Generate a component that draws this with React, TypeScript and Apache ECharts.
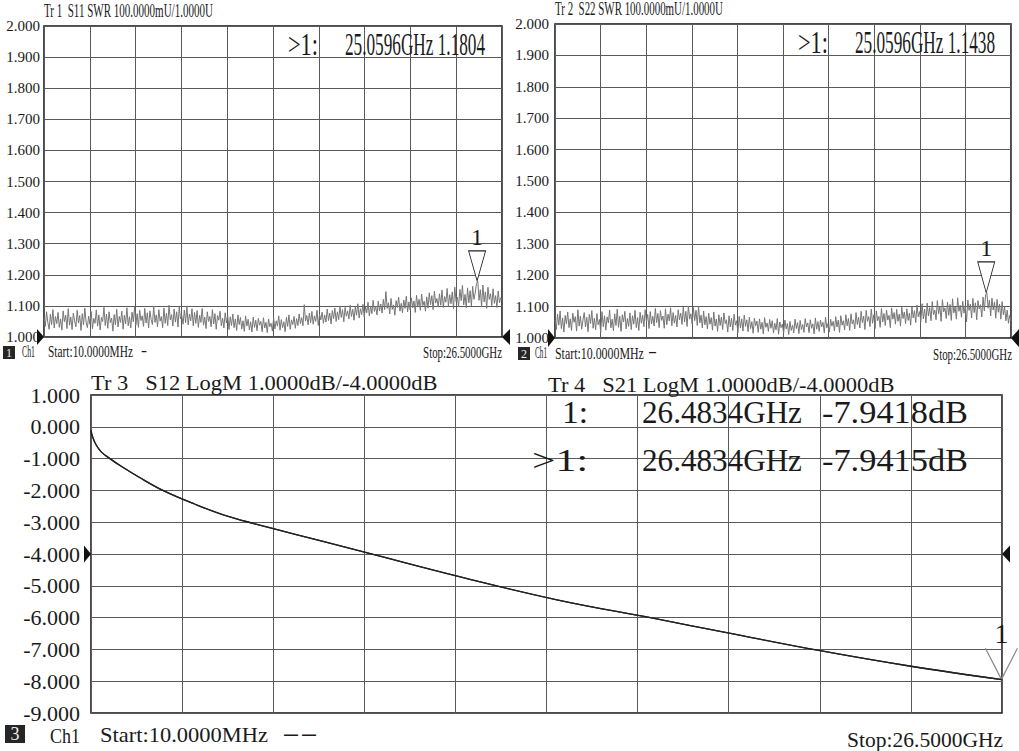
import React, { useEffect, useRef } from "react";
import * as echarts from "echarts";

// ---- sweep definition ----
const START_GHZ = 0.01;
const STOP_GHZ = 26.5;

// ---- Tr 1: S11 SWR (360 sweep points) ----
const s11Swr = [
  1.062, 1.034, 1.081, 1.047, 1.025, 1.073, 1.040, 1.088, 1.029, 1.066,
  1.043, 1.079, 1.031, 1.058, 1.022, 1.084, 1.049, 1.070, 1.027, 1.091,
  1.038, 1.064, 1.024, 1.077, 1.052, 1.033, 1.086, 1.045, 1.069, 1.021,
  1.075, 1.039, 1.093, 1.048, 1.030, 1.067, 1.041, 1.082, 1.026, 1.060,
  1.044, 1.087, 1.035, 1.071, 1.023, 1.063, 1.050, 1.095, 1.037, 1.074,
  1.028, 1.081, 1.046, 1.061, 1.019, 1.072, 1.039, 1.089, 1.032, 1.066,
  1.047, 1.083, 1.025, 1.070, 1.042, 1.094, 1.036, 1.065, 1.029, 1.080,
  1.049, 1.097, 1.038, 1.075, 1.031, 1.086, 1.053, 1.068, 1.034, 1.092,
  1.045, 1.078, 1.029, 1.084, 1.056, 1.040, 1.099, 1.047, 1.071, 1.033,
  1.088, 1.051, 1.066, 1.030, 1.093, 1.044, 1.076, 1.037, 1.102, 1.055,
  1.072, 1.035, 1.090, 1.048, 1.081, 1.032, 1.096, 1.058, 1.069, 1.041,
  1.087, 1.046, 1.100, 1.039, 1.074, 1.052, 1.091, 1.036, 1.079, 1.044,
  1.085, 1.031, 1.070, 1.047, 1.092, 1.038, 1.064, 1.027, 1.081, 1.050,
  1.066, 1.033, 1.088, 1.042, 1.075, 1.025, 1.069, 1.054, 1.083, 1.036,
  1.061, 1.029, 1.078, 1.045, 1.070, 1.024, 1.065, 1.037, 1.074, 1.030,
  1.058, 1.021, 1.071, 1.040, 1.063, 1.026, 1.052, 1.018, 1.068, 1.035,
  1.057, 1.023, 1.049, 1.016, 1.064, 1.031, 1.054, 1.020, 1.060, 1.038,
  1.050, 1.017, 1.062, 1.029, 1.047, 1.014, 1.058, 1.033, 1.044, 1.019,
  1.061, 1.026, 1.052, 1.035, 1.068, 1.022, 1.056, 1.030, 1.049, 1.017,
  1.063, 1.034, 1.071, 1.025, 1.055, 1.040, 1.066, 1.028, 1.059, 1.037,
  1.074, 1.043, 1.062, 1.036, 1.104, 1.051, 1.069, 1.039, 1.077, 1.046,
  1.082, 1.041, 1.068, 1.050, 1.086, 1.037, 1.073, 1.055, 1.080, 1.044,
  1.071, 1.048, 1.090, 1.053, 1.077, 1.042, 1.085, 1.059, 1.093, 1.050,
  1.081, 1.056, 1.098, 1.063, 1.088, 1.049, 1.095, 1.067, 1.084, 1.058,
  1.102, 1.066, 1.089, 1.054, 1.096, 1.070, 1.107, 1.061, 1.091, 1.072,
  1.105, 1.064, 1.097, 1.078, 1.112, 1.068, 1.100, 1.075, 1.118, 1.082,
  1.099, 1.071, 1.115, 1.084, 1.106, 1.077, 1.121, 1.088, 1.146, 1.092,
  1.110, 1.074, 1.124, 1.089, 1.103, 1.070, 1.117, 1.095, 1.128, 1.083,
  1.108, 1.078, 1.119, 1.092, 1.131, 1.081, 1.113, 1.087, 1.126, 1.094,
  1.116, 1.079, 1.134, 1.097, 1.121, 1.086, 1.138, 1.101, 1.115, 1.083,
  1.129, 1.093, 1.142, 1.104, 1.133, 1.088, 1.147, 1.109, 1.124, 1.096,
  1.139, 1.102, 1.151, 1.095, 1.130, 1.112, 1.156, 1.099, 1.136, 1.107,
  1.145, 1.091, 1.160, 1.114, 1.128, 1.098, 1.153, 1.117, 1.166, 1.103,
  1.137, 1.094, 1.158, 1.110, 1.149, 1.100, 1.163, 1.121, 1.141, 1.172,
  1.180, 1.118, 1.152, 1.097, 1.167, 1.113, 1.145, 1.092, 1.160, 1.121,
  1.139, 1.101, 1.155, 1.108, 1.133, 1.095, 1.148, 1.110, 1.126, 1.118,
];

// ---- Tr 2: S22 SWR (360 sweep points) ----
const s22Swr = [
  1.058, 1.027, 1.076, 1.041, 1.086, 1.030, 1.064, 1.019, 1.072, 1.045,
  1.083, 1.033, 1.061, 1.024, 1.079, 1.050, 1.068, 1.022, 1.090, 1.038,
  1.070, 1.028, 1.057, 1.081, 1.035, 1.066, 1.020, 1.075, 1.046, 1.087,
  1.031, 1.063, 1.026, 1.078, 1.042, 1.059, 1.018, 1.084, 1.036, 1.071,
  1.025, 1.067, 1.048, 1.089, 1.032, 1.060, 1.023, 1.077, 1.040, 1.092,
  1.034, 1.069, 1.021, 1.074, 1.051, 1.085, 1.029, 1.062, 1.037, 1.080,
  1.027, 1.071, 1.044, 1.088, 1.033, 1.065, 1.024, 1.082, 1.047, 1.073,
  1.036, 1.090, 1.052, 1.075, 1.030, 1.084, 1.045, 1.069, 1.038, 1.094,
  1.049, 1.078, 1.033, 1.087, 1.056, 1.070, 1.031, 1.093, 1.042, 1.076,
  1.054, 1.096, 1.039, 1.081, 1.047, 1.072, 1.035, 1.090, 1.058, 1.079,
  1.043, 1.099, 1.051, 1.085, 1.037, 1.102, 1.060, 1.077, 1.044, 1.097,
  1.055, 1.088, 1.040, 1.101, 1.048, 1.073, 1.032, 1.086, 1.042, 1.068,
  1.029, 1.079, 1.044, 1.065, 1.025, 1.083, 1.038, 1.060, 1.021, 1.074,
  1.040, 1.067, 1.027, 1.080, 1.046, 1.058, 1.019, 1.071, 1.035, 1.063,
  1.024, 1.076, 1.041, 1.055, 1.017, 1.069, 1.032, 1.061, 1.022, 1.073,
  1.037, 1.058, 1.020, 1.066, 1.030, 1.052, 1.015, 1.063, 1.039, 1.054,
  1.018, 1.061, 1.028, 1.050, 1.013, 1.065, 1.034, 1.048, 1.021, 1.059,
  1.031, 1.055, 1.016, 1.047, 1.026, 1.062, 1.012, 1.051, 1.033, 1.044,
  1.015, 1.057, 1.029, 1.046, 1.011, 1.053, 1.024, 1.041, 1.016, 1.060,
  1.030, 1.049, 1.014, 1.056, 1.027, 1.043, 1.018, 1.062, 1.035, 1.048,
  1.017, 1.058, 1.031, 1.045, 1.013, 1.064, 1.028, 1.052, 1.021, 1.057,
  1.036, 1.050, 1.016, 1.066, 1.032, 1.047, 1.019, 1.060, 1.038, 1.053,
  1.022, 1.068, 1.035, 1.057, 1.018, 1.071, 1.041, 1.055, 1.026, 1.074,
  1.039, 1.062, 1.024, 1.077, 1.045, 1.058, 1.029, 1.081, 1.043, 1.066,
  1.032, 1.085, 1.049, 1.070, 1.027, 1.088, 1.053, 1.068, 1.036, 1.092,
  1.047, 1.074, 1.030, 1.086, 1.055, 1.069, 1.034, 1.094, 1.051, 1.078,
  1.040, 1.089, 1.057, 1.072, 1.033, 1.096, 1.060, 1.081, 1.044, 1.091,
  1.053, 1.076, 1.038, 1.098, 1.062, 1.083, 1.046, 1.093, 1.056, 1.079,
  1.041, 1.100, 1.064, 1.087, 1.049, 1.105, 1.068, 1.084, 1.052, 1.109,
  1.061, 1.092, 1.048, 1.111, 1.070, 1.097, 1.055, 1.116, 1.074, 1.089,
  1.058, 1.119, 1.077, 1.101, 1.053, 1.122, 1.083, 1.096, 1.062, 1.114,
  1.072, 1.107, 1.056, 1.125, 1.080, 1.099, 1.060, 1.128, 1.085, 1.104,
  1.066, 1.117, 1.079, 1.103, 1.051, 1.121, 1.088, 1.108, 1.064, 1.126,
  1.081, 1.112, 1.058, 1.119, 1.092, 1.106, 1.067, 1.130, 1.086, 1.138,
  1.144, 1.095, 1.121, 1.070, 1.127, 1.089, 1.115, 1.063, 1.123, 1.082,
  1.108, 1.060, 1.116, 1.074, 1.098, 1.055, 1.089, 1.047, 1.072, 1.053,
];

// ---- Tr 3 / Tr 4: S12, S21 LogM (dB) ----
const lossFreqGHz = [0.01, 0.06, 0.15, 0.3, 0.56, 0.9, 1.4, 2.1, 3.0, 4.0, 5.2, 6.7, 8.27, 10.6, 13.56, 16.35, 18.53, 21.21, 23.85, 26.5];
const s12dB = [-0.12, -0.33, -0.55, -0.78, -1.0, -1.25, -1.58, -2.0, -2.42, -2.82, -3.17, -3.59, -4.03, -4.68, -5.44, -6.02, -6.48, -7.04, -7.53, -7.95];
const s21dB = [-0.12, -0.33, -0.55, -0.78, -1.0, -1.25, -1.58, -2.0, -2.42, -2.82, -3.17, -3.59, -4.03, -4.68, -5.44, -6.02, -6.48, -7.04, -7.53, -7.95];

// ---- markers ----
const swrMarkerGHz = 25.0596;
const s11Marker = 1.1804;
const s22Marker = 1.1438;
const logMarkerGHz = 26.4834;
const s12Marker = -7.9418;
const s21Marker = -7.9415;

// ---- axis scales ----
const swrMin = 1.0, swrMax = 2.0, swrStep = 0.1, swrRef = 1.0;
const dbMin = -9, dbMax = 1, dbStep = 1, dbRef = -4;

const FONT = "Liberation Serif";
const INK = "#1a1a1a";
const GRID_LINE = "#5a5a5a";

const measureCtx = typeof document !== "undefined" ? document.createElement("canvas").getContext("2d") : null;
function fitScale(text: string, size: number, width: number) {
  if (!measureCtx) return 1;
  measureCtx.font = `${size}px "${FONT}"`;
  const w = measureCtx.measureText(text).width;
  return w > 0 ? width / w : 1;
}

function txt(text: string, x: number, y: number, size: number, width: number, align = "left", fill = INK) {
  return {
    type: "text",
    x,
    y,
    scaleX: fitScale(text, size, width),
    z: 20,
    style: { text, fontSize: size, fontFamily: FONT, fill, align, verticalAlign: "middle" },
  };
}

function badge(n: string, x: number, y: number, w: number, h: number, size: number) {
  return [
    { type: "rect", shape: { x, y, width: w, height: h }, style: { fill: "#262626" }, z: 20 },
    {
      type: "text",
      x: x + w / 2,
      y: y + h / 2,
      z: 21,
      style: { text: n, fontSize: size, fontFamily: FONT, fill: "#eee", align: "center", verticalAlign: "middle" },
    },
  ];
}

const sweep = (n: number, i: number) => START_GHZ + ((STOP_GHZ - START_GHZ) * i) / (n - 1);

const TRI_DOWN = "path://M0,0L20,0L10,30Z";
const V_DOWN = "path://M0,0L10,20L20,0";
const ARROW_RIGHT = "path://M0,0L10,8L0,16Z";
const ARROW_LEFT = "path://M10,0L0,8L10,16Z";

function refArrows(y: number, h: number) {
  return [
    {
      coord: [START_GHZ, y],
      symbol: ARROW_RIGHT,
      symbolSize: [7, h],
      symbolOffset: [-3.5, 0],
      itemStyle: { color: "#111" },
      label: { show: false },
    },
    {
      coord: [STOP_GHZ, y],
      symbol: ARROW_LEFT,
      symbolSize: [8, h],
      symbolOffset: [4, 0],
      itemStyle: { color: "#111" },
      label: { show: false },
    },
  ];
}

function triMarker(f: number, v: number, w: number, h: number) {
  return {
    coord: [f, v],
    symbol: TRI_DOWN,
    symbolSize: [w, h],
    symbolOffset: [0, -h / 2],
    itemStyle: { color: "#fff", borderColor: "#222", borderWidth: 1 },
    label: { show: true, formatter: "1", position: "top", distance: 1, fontSize: 24, fontFamily: FONT, color: INK },
  };
}

export default function App() {
  const ref = useRef<HTMLDivElement>(null);

  useEffect(() => {
    if (!ref.current) return;
    const chart = echarts.init(ref.current, null, { renderer: "svg" });

    const grids = [
      { left: 44, top: 26, width: 458, height: 311 },
      { left: 555, top: 24, width: 456, height: 314 },
      { left: 91, top: 395, width: 911, height: 318 },
    ].map((g) => ({ ...g, show: true, borderColor: "#111", borderWidth: 1.5, backgroundColor: "transparent" }));

    const freqAxes = [0, 1, 2].map((gi) => ({
      gridIndex: gi,
      type: "value",
      min: START_GHZ,
      max: STOP_GHZ,
      show: false,
    }));
    const divAxes = [0, 1, 2].map((gi) => ({
      gridIndex: gi,
      type: "value",
      min: 0,
      max: 10,
      interval: 1,
      axisLine: { show: false },
      axisTick: { show: false },
      axisLabel: { show: false },
      splitLine: { show: true, lineStyle: { color: GRID_LINE, width: 1 } },
    }));

    const yBase = {
      type: "value",
      axisLine: { show: false },
      axisTick: { show: false },
      splitLine: { show: true, lineStyle: { color: GRID_LINE, width: 1.2 } },
    };

    const option: any = {
      animation: false,
      backgroundColor: "#ffffff",
      grid: grids,
      xAxis: [...freqAxes, ...divAxes],
      yAxis: [
        {
          ...yBase,
          gridIndex: 0,
          min: swrMin,
          max: swrMax,
          interval: swrStep,
          axisLabel: { formatter: (v: number) => v.toFixed(3), fontSize: 15, fontFamily: FONT, color: INK, margin: 4 },
        },
        {
          ...yBase,
          gridIndex: 1,
          min: swrMin,
          max: swrMax,
          interval: swrStep,
          axisLabel: { formatter: (v: number) => v.toFixed(3), fontSize: 15, fontFamily: FONT, color: INK, margin: 6 },
        },
        {
          ...yBase,
          gridIndex: 2,
          min: dbMin,
          max: dbMax,
          interval: dbStep,
          axisLabel: { formatter: (v: number) => v.toFixed(3), fontSize: 22, fontFamily: FONT, color: INK, margin: 11 },
        },
      ],
      series: [
        {
          name: "S11 SWR",
          type: "line",
          xAxisIndex: 0,
          yAxisIndex: 0,
          showSymbol: false,
          lineStyle: { color: "#767676", width: 1 },
          data: s11Swr.map((v, i) => [sweep(s11Swr.length, i), v]),
          markPoint: { silent: true, data: [triMarker(swrMarkerGHz, s11Marker, 17, 30), ...refArrows(swrRef, 16)] },
          z: 5,
        },
        {
          name: "S22 SWR",
          type: "line",
          xAxisIndex: 1,
          yAxisIndex: 1,
          showSymbol: false,
          lineStyle: { color: "#767676", width: 1 },
          data: s22Swr.map((v, i) => [sweep(s22Swr.length, i), v]),
          markPoint: { silent: true, data: [triMarker(swrMarkerGHz, s22Marker, 17, 31), ...refArrows(swrRef, 18)] },
          z: 5,
        },
        {
          name: "S12 LogM",
          type: "line",
          xAxisIndex: 2,
          yAxisIndex: 2,
          showSymbol: false,
          smooth: 0.4,
          lineStyle: { color: "#222", width: 1.3 },
          data: lossFreqGHz.map((f, i) => [f, s12dB[i]]),
          markPoint: { silent: true, data: refArrows(dbRef, 17) },
          z: 5,
        },
        {
          name: "S21 LogM",
          type: "line",
          xAxisIndex: 2,
          yAxisIndex: 2,
          showSymbol: false,
          smooth: 0.4,
          lineStyle: { color: "#222", width: 1.3 },
          data: lossFreqGHz.map((f, i) => [f, s21dB[i]]),
          markPoint: {
            silent: true,
            data: [
              {
                coord: [logMarkerGHz, s21Marker],
                symbol: V_DOWN,
                symbolSize: [32, 31],
                symbolOffset: [0, -15.5],
                itemStyle: { color: "transparent", borderColor: "#8a8a8a", borderWidth: 1.2 },
                label: { show: true, formatter: "1", position: "top", distance: 0, fontSize: 28, fontFamily: FONT, color: INK },
              },
            ],
          },
          z: 5,
        },
      ],
      graphic: [
        // headers
        txt("Tr 1  S11 SWR 100.0000mU/1.0000U", 44, 11, 18, 169),
        txt("Tr 2  S22 SWR 100.0000mU/1.0000U", 555, 9, 18, 168),
        txt("Tr 3   S12 LogM 1.0000dB/-4.0000dB", 91, 383, 21, 347),
        txt("Tr 4   S21 LogM 1.0000dB/-4.0000dB", 548, 385, 21, 347),
        // marker readouts
        txt(">1:", 288, 44, 32, 30),
        txt("25.0596GHz 1.1804", 345, 44, 32, 140),
        txt(">1:", 798, 42, 32, 30),
        txt("25.0596GHz 1.1438", 855, 42, 32, 140),
        txt("1:", 562, 412, 32, 26),
        txt("26.4834GHz", 642, 412, 32, 160),
        txt("-7.9418dB", 822, 412, 32, 146),
        txt(">1:", 532, 460, 32, 56),
        txt("26.4834GHz", 642, 460, 32, 160),
        txt("-7.9415dB", 822, 460, 32, 146),
        // channel footers
        ...badge("1", 3, 346, 12, 13, 12),
        txt("Ch1", 22, 352, 16, 13),
        txt("Start:10.0000MHz", 48, 352, 16, 85),
        txt("-", 141, 351, 16, 6),
        txt("Stop:26.5000GHz", 502, 353, 16, 79, "right"),
        ...badge("2", 518, 347, 12, 13, 12),
        txt("Ch1", 535, 353, 16, 12),
        txt("Start:10.0000MHz", 555, 353, 16, 89),
        txt("-", 648, 352, 16, 9),
        txt("Stop:26.5000GHz", 1012, 355, 16, 79, "right"),
        ...badge("3", 5, 725, 20, 18, 18),
        txt("Ch1", 50, 735, 22, 30),
        txt("Start:10.0000MHz", 100, 735, 22, 168),
        txt("--", 282, 733, 22, 36),
        txt("Stop:26.5000GHz", 1003, 740, 22, 156, "right"),
      ],
    };

    chart.setOption(option);
    return () => chart.dispose();
  }, []);

  return (
    <div
      ref={ref}
      style={{ position: "fixed", left: 0, top: 0, width: 1019, height: 751, background: "#fff" }}
    />
  );
}
